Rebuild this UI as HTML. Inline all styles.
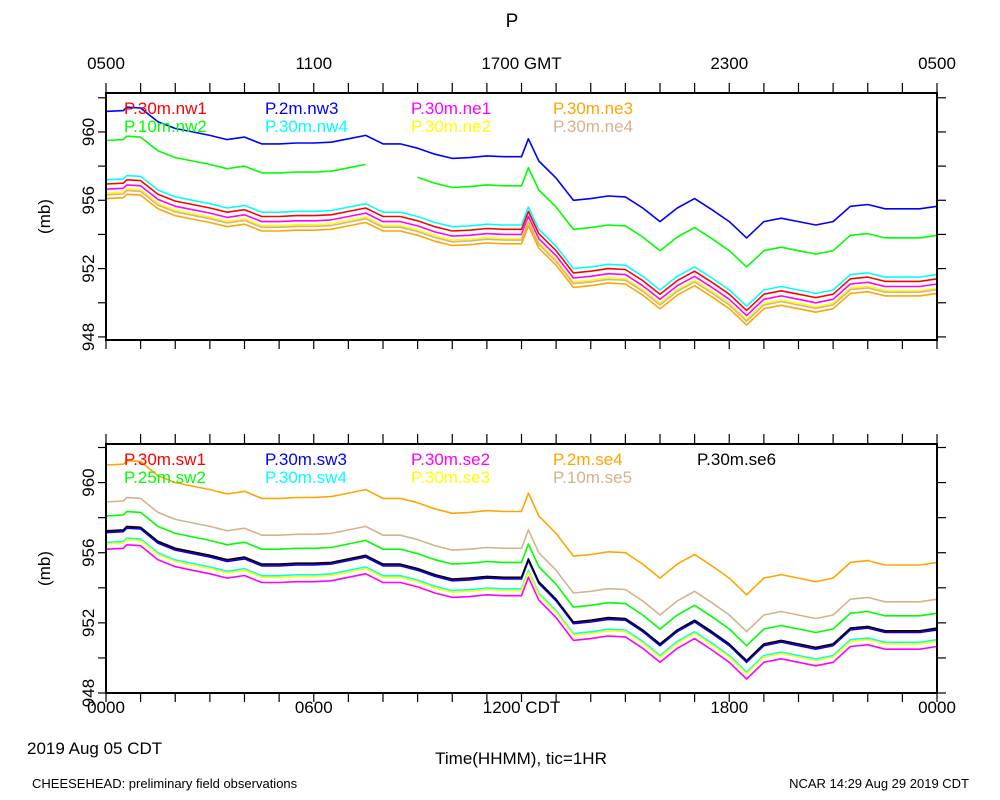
<!DOCTYPE html>
<html><head><meta charset="utf-8"><style>
body{margin:0;background:#fff;}
svg{display:block;font-family:"Liberation Sans",sans-serif;}
</style></head><body>
<svg id="c" width="1000" height="800" viewBox="0 0 1000 800">
<text x="512" y="27" font-size="19" text-anchor="middle">P</text>
<text x="27" y="754" font-size="17">2019 Aug 05 CDT</text>
<text x="521" y="764" font-size="17" text-anchor="middle">Time(HHMM), tic=1HR</text>
<text x="32" y="788" font-size="13">CHEESEHEAD: preliminary field observations</text>
<text x="969" y="788" font-size="13" text-anchor="end">NCAR 14:29 Aug 29 2019 CDT</text>
</svg>
<script>
// hours (0 = 0000 CDT)
const hours = [0,0.5,0.6,1,1.5,2,2.5,3,3.5,4,4.5,5,5.5,6,6.5,7,7.5,8,8.5,9,9.5,10,10.5,11,11.5,12,12.2,12.5,13,13.5,14,14.5,15,15.5,16,16.5,17,17.5,18,18.5,19,19.5,20,20.5,21,21.5,22,22.5,23,23.5,24];
// reference pressure profile (mb)
const baseP = [957.2,957.25,957.45,957.4,956.6,956.2,956.0,955.8,955.55,955.7,955.3,955.3,955.35,955.35,955.4,955.6,955.8,955.3,955.3,955.05,954.7,954.45,954.5,954.6,954.55,954.55,955.6,954.3,953.3,952.0,952.1,952.25,952.2,951.55,950.75,951.55,952.1,951.45,950.75,949.8,950.75,950.95,950.75,950.55,950.75,951.65,951.75,951.5,951.5,951.5,951.65];
// top panel series names, colours, offsets from reference (mb)
const topNames = ["P.30m.nw1","P.10m.nw2","P.2m.nw3","P.30m.nw4","P.30m.ne1","P.30m.ne2","P.30m.ne3","P.30m.ne4"];
const topColors = ["#ff0000","#00ff00","#0000ff","#00ffff","#ff00ff","#ffff00","#ffa500","#d2b48c"];
const topOffsets = [-0.25,2.3,4.0,0,-0.55,-0.78,-1.1,-0.88];
// bottom panel
const botNames = ["P.30m.sw1","P.25m.sw2","P.30m.sw3","P.30m.sw4","P.30m.se2","P.30m.se3","P.2m.se4","P.10m.se5","P.30m.se6"];
const botColors = ["#ff0000","#00ff00","#0000ff","#00ffff","#ff00ff","#ffff00","#ffa500","#d2b48c","#000000"];
const botOffsets = [0.02,0.9,-0.05,-0.61,-1.0,-0.7,3.8,1.7,0.05];
// gap in nw2 (hours)
const gapStart = 7.6, gapEnd = 8.6;
const yTicksLabels = [948,952,956,960];
const topTickLabels = ["0500","1100","1700 GMT","2300","0500"];
const botTickLabels = ["0000","0600","1200 CDT","1800","0000"];

const svg = document.getElementById('c');
const NS = "http://www.w3.org/2000/svg";
function mk(tag, attrs, parent){const e=document.createElementNS(NS,tag);for(const k in attrs)e.setAttribute(k,attrs[k]);(parent||svg).appendChild(e);return e;}
const X0=106, X1=937;
function xs(h){return X0+(X1-X0)*h/24;}

function panel(name, top, bottom, ymin, ymax, names, colors, offsets, tickLabels, labelAbove){
  const g = mk('g',{});
  
  
  const ys = v => bottom - (v-ymin)/(ymax-ymin)*(bottom-top);
  names.forEach((nm,i)=>{
    let segs=[[]];
    hours.forEach((h,j)=>{
      if(nm==="P.10m.nw2" && h>gapStart && h<gapEnd){ if(segs[segs.length-1].length) segs.push([]); return; }
      segs[segs.length-1].push(xs(h).toFixed(1)+','+ys(baseP[j]+offsets[i]).toFixed(1));
    });
    segs.filter(s=>s.length).forEach(s=>{
      const p = mk('polyline',{points:s.join(' '),fill:'none',stroke:colors[i],'stroke-width':1.6,'stroke-linejoin':'round'},g);
      
      
    });
  });
  const f = mk('rect',{x:X0,y:top,width:X1-X0,height:bottom-top,fill:'none',stroke:'#000','stroke-width':2},g);
  
  
  for(let h=0;h<=24;h++){
    mk('line',{x1:xs(h),x2:xs(h),y1:top,y2:top-10,stroke:'#000','stroke-width':1.2},g);
    mk('line',{x1:xs(h),x2:xs(h),y1:bottom,y2:bottom+9,stroke:'#000','stroke-width':1.2},g);
  }
  tickLabels.forEach((t,i)=>{
    const tx = mk('text',{x:xs(i*6),y:labelAbove?top-24:bottom+20,'font-size':17,'text-anchor':'middle'},g);
    tx.textContent=t;
    
    
  });
  for(let v=948; v<=962; v+=2){
    const y=ys(v); if(y<top-1||y>bottom+1) continue;
    mk('line',{x1:X0,x2:X0-8,y1:y,y2:y,stroke:'#000','stroke-width':1.2},g);
    mk('line',{x1:X1,x2:X1+9,y1:y,y2:y,stroke:'#000','stroke-width':1.2},g);
  }
  yTicksLabels.forEach(v=>{
    const y=ys(v);
    const tx=mk('text',{x:0,y:0,'font-size':17,'text-anchor':'middle',transform:`translate(94,${y}) rotate(-90)`},g);
    tx.textContent=v;
    
    
  });
  const yt=mk('text',{x:0,y:0,'font-size':17,'text-anchor':'middle',transform:`translate(50,${(top+bottom)/2}) rotate(-90)`},g);
  yt.textContent='(mb)';
  
  
  const lx=[124,265,411,553,697];
  names.forEach((nm,i)=>{
    const col=Math.floor(i/2), row=i%2;
    let cx=lx[col], r=row;
    if(i===8){cx=lx[4];r=0;}
    const tx=mk('text',{x:cx,y:top+21+r*18,'font-size':17,fill:colors[i]},g);
    tx.textContent=nm;
    
    
  });
}
panel('top-panel',93,340,947.82,962.28,topNames,topColors,topOffsets,topTickLabels,true);
panel('bottom-panel',444,693,948,962.2,botNames,botColors,botOffsets,botTickLabels,false);
</script>
</body></html>
